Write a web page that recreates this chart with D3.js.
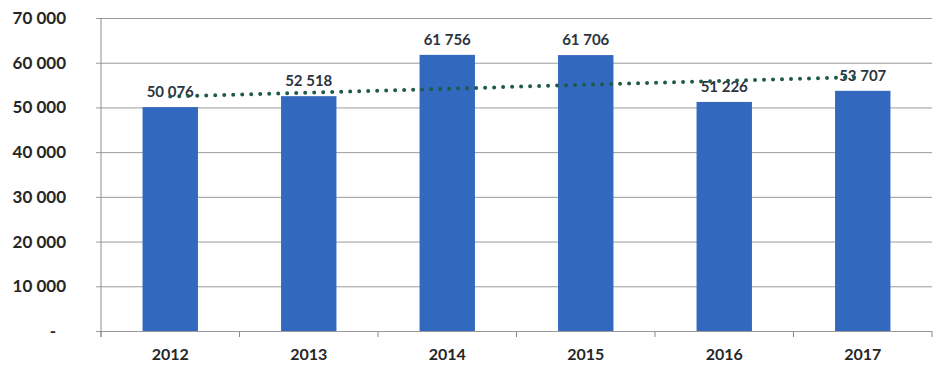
<!DOCTYPE html>
<html>
<head>
<meta charset="utf-8">
<script src="https://cdn.jsdelivr.net/npm/d3@7"></script>
<style>
  body { margin: 0; background: #fff; }
  svg { display: block; font-family: Lato, "Open Sans", sans-serif; }
</style>
</head>
<body>
<div id="chart"></div>
<script>
// chart data
const years = ["2012", "2013", "2014", "2015", "2016", "2017"];
const values = [50076, 52518, 61756, 61706, 51226, 53707];
// trend line (value at first and last year)
const trendYears = ["2012", "2017"];
const trendValues = [52450, 56800];
const yTicks = [0, 10000, 20000, 30000, 40000, 50000, 60000, 70000];

// set the dimensions and margins of the graph
const margin = { top: 18, right: 13, bottom: 40, left: 101 };
const width = 945 - margin.left - margin.right;
const height = 371 - margin.top - margin.bottom;

const svg = d3.select("#chart")
    .append("svg")
    .attr("width", 945)
    .attr("height", 371)
    .append("g")
    .attr("transform", `translate(${margin.left}, ${margin.top})`);

const x = d3.scaleBand()
    .domain(years)
    .range([0, width])
    .paddingInner(0.6)
    .paddingOuter(0.3);

const y = d3.scaleLinear()
    .domain([0, 70000])
    .range([height, 0]);

const fmt = d => d === 0 ? "-" : d3.format(",")(d).replace(/,/g, " ");

// grid lines + y labels
const yAxis = svg.append("g")
    .call(d3.axisLeft(y).tickValues(yTicks).tickSize(-width - 5).tickPadding(30).tickFormat(fmt))
    .call(g => g.select(".domain").remove());
yAxis.selectAll(".tick line")
    .attr("x1", -5)
    .attr("x2", width)
    .attr("stroke", "#9a9a9a");
yAxis.selectAll(".tick text")
    .attr("x", d => d === 0 ? -45 : -35)
    .attr("fill", "#262626")
    .style("font-size", "17px")
    .style("font-weight", "bold")
    .style("font-family", "Lato, sans-serif");

// vertical axis line
svg.append("line")
    .attr("x1", 0).attr("x2", 0)
    .attr("y1", 0).attr("y2", height + 6)
    .attr("stroke", "#8c8c8c");

// category boundary ticks
svg.append("g")
    .selectAll("line")
    .data(d3.range(years.length + 1))
    .join("line")
    .attr("x1", i => i * x.step())
    .attr("x2", i => i * x.step())
    .attr("y1", height)
    .attr("y2", height + 6)
    .attr("stroke", "#8c8c8c");

// bars
svg.append("g")
    .selectAll("rect")
    .data(years)
    .join("rect")
    .attr("x", d => x(d))
    .attr("y", (d, i) => y(values[i]))
    .attr("width", x.bandwidth())
    .attr("height", (d, i) => height - y(values[i]))
    .attr("fill", "#3268be");

// value labels
svg.append("g")
    .selectAll("text")
    .data(years)
    .join("text")
    .attr("x", d => x(d) + x.bandwidth() / 2)
    .attr("y", (d, i) => y(values[i]) - 10)
    .attr("text-anchor", "middle")
    .attr("fill", "#2b3440")
    .style("font-size", "15px")
    .style("font-weight", "bold")
    .text((d, i) => fmt(values[i]));

// trend line (dotted)
const line = d3.line()
    .x((d, i) => x(trendYears[i]) + x.bandwidth() / 2)
    .y(d => y(d));
svg.append("path")
    .datum(trendValues)
    .attr("d", line)
    .attr("fill", "none")
    .attr("stroke", "#1d5a4a")
    .attr("stroke-width", 4)
    .attr("stroke-linecap", "round")
    .attr("stroke-dasharray", "0 9");

// x labels
svg.append("g")
    .selectAll("text")
    .data(years)
    .join("text")
    .attr("x", d => x(d) + x.bandwidth() / 2)
    .attr("y", height + 29)
    .attr("text-anchor", "middle")
    .attr("fill", "#262626")
    .style("font-size", "16px")
    .style("font-weight", "bold")
    .text(d => d);
</script>
</body>
</html>
